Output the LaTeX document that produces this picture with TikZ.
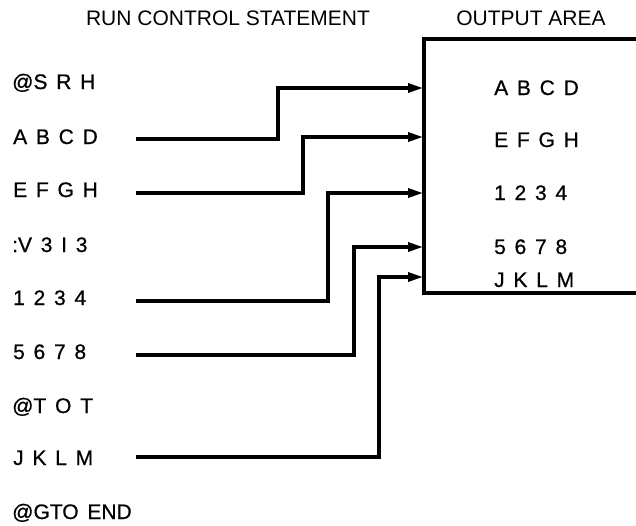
\documentclass[tikz,border=0pt]{standalone}
\usepackage{fontspec}
\setmainfont{Liberation Sans}
\newfontfamily\lblfont[WordSpace=1.5,FakeBold=0.7]{Liberation Sans}
\usetikzlibrary{arrows.meta}

\begin{document}
\begin{tikzpicture}[x=1pt,y=-1pt,
  heading/.style={font=\fontsize{21}{24}\selectfont, inner sep=0pt},
  stmt/.style={font=\lblfont\fontsize{21}{24}\selectfont, anchor=base west, inner sep=0pt},
  outtext/.style={font=\lblfont\fontsize{21}{24}\selectfont, anchor=base west, inner sep=0pt},
  wire/.style={line width=3.2pt, line join=miter},
  flow/.style={wire, -{Triangle[length=15pt,width=9pt]}}]
\useasboundingbox (0,0) rectangle (636,525);

% headings
\node[heading] (hrun) at (228,18) {RUN CONTROL STATEMENT};
\node[heading] (hout) at (531,18) {OUTPUT AREA};

% run control statements (baseline = centre + 7.5)
\node[stmt] (l1) at (12,89)  {@S R H};
\node[stmt] (l2) at (13,144) {A B C D};
\node[stmt] (l3) at (13,197) {E F G H};
\node[stmt] (l4) at (12,252) {:V 3 I 3};
\node[stmt] (l5) at (13,305) {1 2 3 4};
\node[stmt] (l6) at (13,359) {5 6 7 8};
\node[stmt] (l7) at (12,413) {@T O T};
\node[stmt] (l8) at (13,465) {J K L M};
\node[stmt] (l9) at (12,519) {@GTO END};

% output area frame, open to the right
\coordinate (box-tr) at (636,39);
\coordinate (box-tl) at (424,39);
\coordinate (box-bl) at (424,293);
\coordinate (box-br) at (636,293);
\draw[wire] (box-tr) -- (box-tl) -- (box-bl) -- (box-br);

% output lines
\node[outtext] (o1) at (494,95)  {A B C D};
\node[outtext] (o2) at (494,147) {E F G H};
\node[outtext] (o3) at (494,200) {1 2 3 4};
\node[outtext] (o4) at (494,254) {5 6 7 8};
\node[outtext] (o5) at (494,287) {J K L M};

% wire start points beside the statements
\coordinate (s1) at (136,139);
\coordinate (s2) at (136,193);
\coordinate (s3) at (136,301);
\coordinate (s4) at (136,355);
\coordinate (s5) at (136,457);

% arrow ends on the frame
\coordinate (t1) at (423,88);
\coordinate (t2) at (423,137);
\coordinate (t3) at (423,193);
\coordinate (t4) at (423,247);
\coordinate (t5) at (423,277);

% routed connections
\draw[flow] (s1) -- ++(142,0) |- (t1);
\draw[flow] (s2) -- ++(167,0) |- (t2);
\draw[flow] (s3) -- ++(192,0) |- (t3);
\draw[flow] (s4) -- ++(218,0) |- (t4);
\draw[flow] (s5) -- ++(243,0) |- (t5);
\end{tikzpicture}
\end{document}
